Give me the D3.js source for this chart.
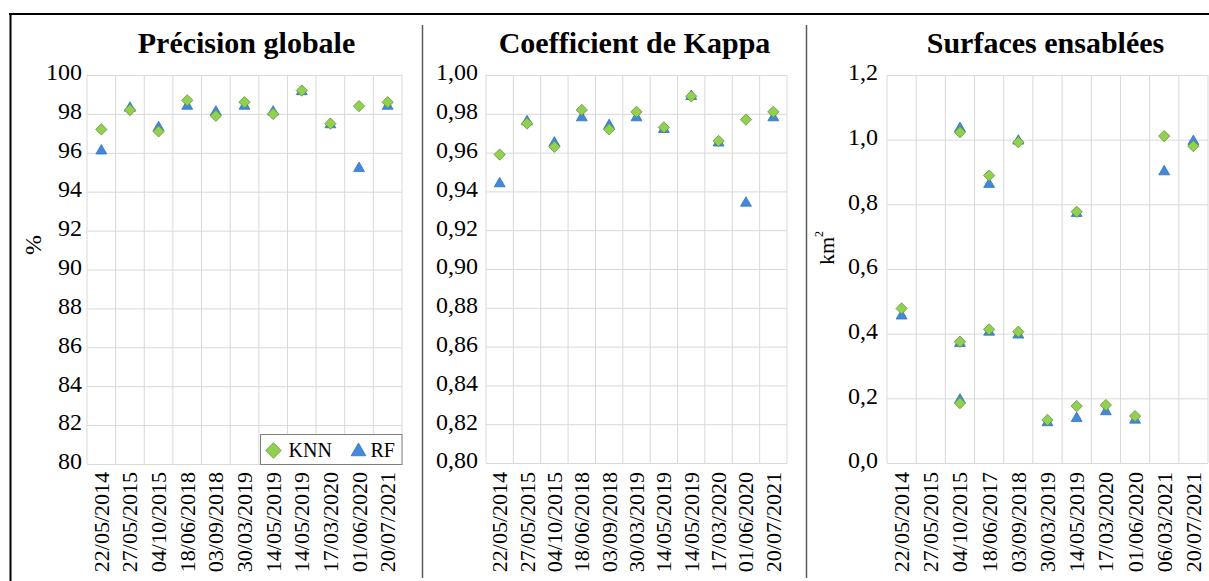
<!DOCTYPE html>
<html>
<head>
<meta charset="utf-8">
<script src="https://cdn.jsdelivr.net/npm/d3@7"></script>
<style>
  body { margin: 0; background: #fff; }
  svg { display: block; }
  svg text { font-family: "Liberation Serif", "Times New Roman", "DejaVu Serif", serif; fill: #000; }
</style>
</head>
<body>
<svg width="1209" height="581"></svg>
<script>
// categories
const datesA = ["22/05/2014", "27/05/2015", "04/10/2015", "18/06/2018", "03/09/2018", "30/03/2019",
                "14/05/2019", "14/05/2019", "17/03/2020", "01/06/2020", "20/07/2021"];
const datesS = ["22/05/2014", "27/05/2015", "04/10/2015", "18/06/2017", "03/09/2018", "30/03/2019",
                "14/05/2019", "17/03/2020", "01/06/2020", "06/03/2021", "20/07/2021"];

// Précision globale (%)
const precKnn = [97.2, 98.2, 97.1, 98.7, 97.9, 98.6, 98.0, 99.2, 97.5, 98.4, 98.6];
const precRf  = [96.1, 98.3, 97.3, 98.4, 98.1, 98.4, 98.1, 99.15, 97.45, 95.2, 98.4];

// Coefficient de Kappa
const kappaKnn = [0.959, 0.975, 0.963, 0.982, 0.972, 0.981, 0.973, 0.989, 0.966, 0.977, 0.981];
const kappaRf  = [0.944, 0.976, 0.965, 0.978, 0.974, 0.978, 0.972, 0.989, 0.965, 0.934, 0.978];

// Surfaces ensablées (km²), several zones per date
const surfKnn1 = [0.478, null, 1.023, 0.889, 0.992, null, 0.777, null, null, 1.011, 0.980];
const surfKnn2 = [null, null, 0.375, 0.413, 0.406, 0.133, 0.176, 0.179, 0.145, null, null];
const surfKnn3 = [null, null, 0.185, null, null, null, null, null, null, null, null];
const surfRf1  = [0.455, null, 1.035, 0.862, 0.996, null, 0.772, null, null, 0.901, 0.995];
const surfRf2  = [null, null, 0.370, 0.405, 0.396, 0.125, 0.138, 0.159, 0.133, null, null];
const surfRf3  = [null, null, 0.195, null, null, null, null, null, null, null, null];

const frLocale = d3.formatLocale({ decimal: ",", thousands: " ", grouping: [3], currency: ["", " €"] });
const serif = '"Liberation Serif", "Times New Roman", "DejaVu Serif", serif';

const svg = d3.select("svg").attr("font-family", serif);
const gridColor = "#d9d9d9";
const knnFill = "#92d050", knnStroke = "#5f8f36";
const rfFill = "#4189dd", rfStroke = "#2c6bb3";

const diamond = d3.symbol().type(d3.symbolSquare).size(64);
const triangle = d3.symbol().type(d3.symbolTriangle).size(52);

// outer frame + separators
svg.append("line").attr("x1", 9).attr("x2", 1209).attr("y1", 14).attr("y2", 14)
  .attr("stroke", "#000").attr("stroke-width", 2);
svg.append("line").attr("x1", 10.5).attr("x2", 10.5).attr("y1", 13).attr("y2", 581)
  .attr("stroke", "#000").attr("stroke-width", 2);
[422.5, 806.5].forEach(x => {
  svg.append("line").attr("x1", x).attr("x2", x).attr("y1", 25).attr("y2", 578)
    .attr("stroke", "#595959").attr("stroke-width", 1.5);
});

function drawPanel(p) {
  const g = svg.append("g");
  const x = d3.scaleBand().domain(d3.range(p.cats.length)).range([p.x0, p.x1]);
  const y = d3.scaleLinear().domain(p.domain).range([p.y1, p.y0]);

  // horizontal grid
  g.append("g")
    .attr("transform", `translate(${p.x0},0)`)
    .call(d3.axisLeft(y).tickValues(p.ticks).tickSize(-(p.x1 - p.x0)).tickFormat(""))
    .call(a => a.select(".domain").remove())
    .selectAll("line").attr("stroke", gridColor);

  // vertical grid at band edges
  const edges = d3.range(p.cats.length + 1).map(i => p.x0 + i * x.bandwidth());
  g.append("g").selectAll("line").data(edges).join("line")
    .attr("x1", d => d).attr("x2", d => d)
    .attr("y1", p.y0).attr("y2", p.y1)
    .attr("stroke", gridColor);

  // y tick labels
  g.append("g")
    .attr("transform", `translate(${p.x0},0)`)
    .call(d3.axisLeft(y).tickValues(p.ticks).tickSize(0).tickPadding(p.pad).tickFormat(p.fmt))
    .call(a => a.attr("font-family", serif).attr("font-size", 24))
    .call(a => a.select(".domain").remove())
    .selectAll("text")
    .attr("fill", "#000")
    .attr("dy", "0.2em");

  // category labels
  g.append("g").attr("font-family", serif).attr("font-size", 22)
    .selectAll("text").data(p.cats).join("text")
    .attr("transform", (d, i) => `translate(${x(i) + x.bandwidth() / 2},472) rotate(-90)`)
    .attr("text-anchor", "end")
    .attr("dy", "0.34em")
    .text(d => d);

  // title
  g.append("text")
    .attr("x", p.titleX).attr("y", 53)
    .attr("text-anchor", "middle")
    .attr("font-family", serif)
    .attr("font-size", 30).attr("font-weight", "bold")
    .text(p.title);

  // markers: RF under, KNN on top
  const pts = (arr) => arr.map((v, i) => ({ i, v })).filter(d => d.v != null);
  p.rf.forEach(arr => {
    g.append("g").selectAll("path").data(pts(arr)).join("path")
      .attr("d", triangle)
      .attr("transform", d => `translate(${x(d.i) + x.bandwidth() / 2},${y(d.v)})`)
      .attr("fill", rfFill).attr("stroke", rfStroke).attr("stroke-width", 0.7);
  });
  p.knn.forEach(arr => {
    g.append("g").selectAll("path").data(pts(arr)).join("path")
      .attr("d", diamond)
      .attr("transform", d => `translate(${x(d.i) + x.bandwidth() / 2},${y(d.v)}) rotate(45)`)
      .attr("fill", knnFill).attr("stroke", knnStroke).attr("stroke-width", 0.7);
  });
  return g;
}

drawPanel({
  cats: datesA, x0: 87, x1: 402, y0: 75, y1: 464,
  domain: [80, 100], ticks: d3.range(80, 100.1, 2), fmt: d3.format("d"), pad: 5,
  title: "Précision globale", titleX: 246.5,
  knn: [precKnn], rf: [precRf]
});

drawPanel({
  cats: datesA, x0: 486, x1: 787, y0: 75, y1: 463,
  domain: [0.8, 1.0], ticks: d3.range(0, 11).map(k => 0.8 + k * 0.02), fmt: frLocale.format(".2f"), pad: 8,
  title: "Coefficient de Kappa", titleX: 634.5,
  knn: [kappaKnn], rf: [kappaRf]
});

drawPanel({
  cats: datesS, x0: 887, x1: 1208, y0: 75, y1: 463,
  domain: [0, 1.2], ticks: d3.range(0, 7).map(k => k * 0.2), fmt: frLocale.format(".1f"), pad: 9,
  title: "Surfaces ensablées", titleX: 1045.5,
  knn: [surfKnn1, surfKnn2, surfKnn3], rf: [surfRf1, surfRf2, surfRf3]
});

// y axis titles
svg.append("text")
  .attr("transform", "translate(41,245) rotate(-90)")
  .attr("text-anchor", "middle")
  .attr("font-family", serif)
  .attr("font-size", 24)
  .text("%");

const km = svg.append("text")
  .attr("transform", "translate(834,248) rotate(-90)")
  .attr("text-anchor", "middle")
  .attr("font-family", serif)
  .attr("font-size", 22);
km.append("tspan").text("km");
km.append("tspan").attr("font-size", 12).attr("dy", -11).text("2");

// legend
const lg = svg.append("g").attr("transform", "translate(260.5,434.5)").attr("font-family", serif);
lg.append("rect").attr("width", 141.5).attr("height", 30)
  .attr("fill", "#fff").attr("stroke", "#7f7f7f").attr("stroke-width", 1);
lg.append("path")
  .attr("d", d3.symbol().type(d3.symbolSquare).size(120)())
  .attr("transform", "translate(13,16) rotate(45)")
  .attr("fill", knnFill).attr("stroke", knnStroke).attr("stroke-width", 0.7);
lg.append("text").attr("x", 28).attr("y", 22).attr("font-size", 20).text("KNN");
lg.append("path")
  .attr("d", d3.symbol().type(d3.symbolTriangle).size(95)())
  .attr("transform", "translate(98,17)")
  .attr("fill", rfFill).attr("stroke", rfStroke).attr("stroke-width", 0.7);
lg.append("text").attr("x", 110).attr("y", 22).attr("font-size", 20).text("RF");
</script>
</body>
</html>
